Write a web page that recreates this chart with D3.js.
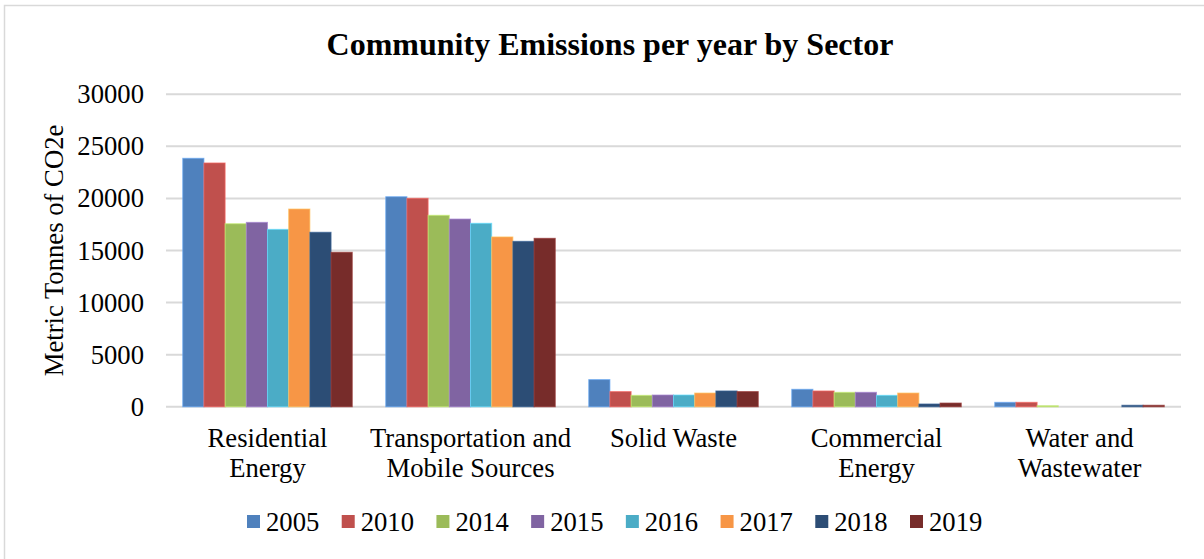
<!DOCTYPE html>
<html>
<head>
<meta charset="utf-8">
<script src="https://cdn.jsdelivr.net/npm/d3@7"></script>
<style>
  html, body { margin: 0; padding: 0; background: #ffffff; }
  svg { display: block; }
  text { font-family: "Liberation Serif", "Times New Roman", serif; fill: #000; }
</style>
</head>
<body>
<svg id="chart" width="1204" height="559"></svg>
<script>
// Community emissions (metric tonnes CO2e) by sector and inventory year
const categories = ["Residential Energy", "Transportation and Mobile Sources", "Solid Waste", "Commercial Energy", "Water and Wastewater"];
const categoryLines = [["Residential", "Energy"], ["Transportation and", "Mobile Sources"], ["Solid Waste"], ["Commercial", "Energy"], ["Water and", "Wastewater"]];
const years = ["2005", "2010", "2014", "2015", "2016", "2017", "2018", "2019"];

const residential    = [23850, 23400, 17570, 17700, 17030, 18980, 16750, 14830];
const transportation = [20160, 20010, 18380, 18020, 17610, 16300, 15880, 16170];
const solidWaste     = [2610, 1460, 1100, 1130, 1130, 1320, 1520, 1460];
const commercial     = [1680, 1520, 1390, 1390, 1100, 1320, 270, 360];
const water          = [430, 430, 100, 0, 0, 0, 150, 150];

const yTicks = [0, 5000, 10000, 15000, 20000, 25000, 30000];
const colors = ["#4F81BD", "#C0504D", "#9BBB59", "#8064A2", "#4BACC6", "#F79646", "#2C4D75", "#772C2A"];

const seriesByCategory = [residential, transportation, solidWaste, commercial, water];
const rows = categories.map((c, i) => ({ category: c, values: seriesByCategory[i] }));

const svg = d3.select("#chart");
const W = 1204, H = 559;
const margin = { left: 166, right: 23, top: 94.2, bottom: 152.2 };
const plotW = W - margin.left - margin.right;
const plotH = H - margin.top - margin.bottom;

// chart frame
svg.append("rect")
  .attr("x", 4.5).attr("y", 5.5)
  .attr("width", 1210).attr("height", 570)
  .attr("fill", "#fff").attr("stroke", "#d9d9d9").attr("stroke-width", 1.5);

// title
svg.append("text")
  .attr("x", 610).attr("y", 55)
  .attr("text-anchor", "middle")
  .style("font-size", "32px").style("font-weight", "bold")
  .text("Community Emissions per year by Sector");

const g = svg.append("g").attr("transform", `translate(${margin.left},${margin.top})`);

const x0 = d3.scaleBand().domain(categories).range([0, plotW]).paddingInner(0).paddingOuter(0);
const x1 = d3.scaleBand().domain(years).range([0, x0.bandwidth()]).paddingInner(0).paddingOuter(0.79);
const y = d3.scaleLinear().domain([0, 30000]).range([plotH, 0]);

// gridlines
g.append("g")
  .selectAll("line")
  .data(yTicks)
  .join("line")
  .attr("x1", 0).attr("x2", plotW)
  .attr("y1", d => y(d)).attr("y2", d => y(d))
  .attr("stroke", "#d9d9d9").attr("stroke-width", 2);

// y axis labels
const yAxis = g.append("g")
  .call(d3.axisLeft(y).tickValues(yTicks).tickSize(0).tickPadding(22).tickFormat(d3.format("d")));
yAxis.select(".domain").remove();
yAxis.selectAll("text")
  .style("font-family", '"Liberation Serif", "Times New Roman", serif')
  .style("font-size", "26.67px").attr("fill", "#000");

// y axis title
svg.append("text")
  .attr("transform", `translate(63,${margin.top + plotH / 2}) rotate(-90)`)
  .attr("text-anchor", "middle")
  .style("font-size", "26.67px")
  .text("Metric Tonnes of CO2e");

// bars
const groups = g.append("g")
  .selectAll("g")
  .data(rows)
  .join("g")
  .attr("transform", d => `translate(${x0(d.category)},0)`);

groups.selectAll("rect")
  .data(d => d.values.map((v, i) => ({ year: years[i], value: v, color: colors[i] })))
  .join("rect")
  .attr("x", d => x1(d.year))
  .attr("width", x1.bandwidth())
  .attr("y", d => y(d.value))
  .attr("height", d => plotH - y(d.value))
  .attr("fill", d => d.color)
  .attr("stroke", d => d3.color(d.color).brighter(0.7))
  .attr("stroke-opacity", 0.7)
  .attr("stroke-width", 1);

// category axis
const xAxis = g.append("g")
  .attr("transform", `translate(0,${plotH})`)
  .call(d3.axisBottom(x0).tickSize(0).tickFormat(""));
xAxis.select(".domain").remove();
xAxis.selectAll(".tick").each(function(d, i) {
  const t = d3.select(this).append("text")
    .attr("text-anchor", "middle")
    .attr("fill", "#000")
    .style("font-family", '"Liberation Serif", "Times New Roman", serif')
    .style("font-size", "26.67px");
  categoryLines[i].forEach((line, j) => {
    t.append("tspan").attr("x", 0).attr("y", 40 + j * 30.5).text(line);
  });
});

// legend
const legend = svg.append("g");
const legendX = d3.scalePoint().domain(years).range([247, 910]);
const items = legend.selectAll("g")
  .data(years)
  .join("g")
  .attr("transform", d => `translate(${legendX(d)},0)`);
items.append("rect")
  .attr("x", 0).attr("y", 515)
  .attr("width", 13).attr("height", 13)
  .attr("fill", (d, i) => colors[i]);
items.append("text")
  .attr("x", 19).attr("y", 531)
  .style("font-size", "26.67px")
  .text(d => d);
</script>
</body>
</html>
